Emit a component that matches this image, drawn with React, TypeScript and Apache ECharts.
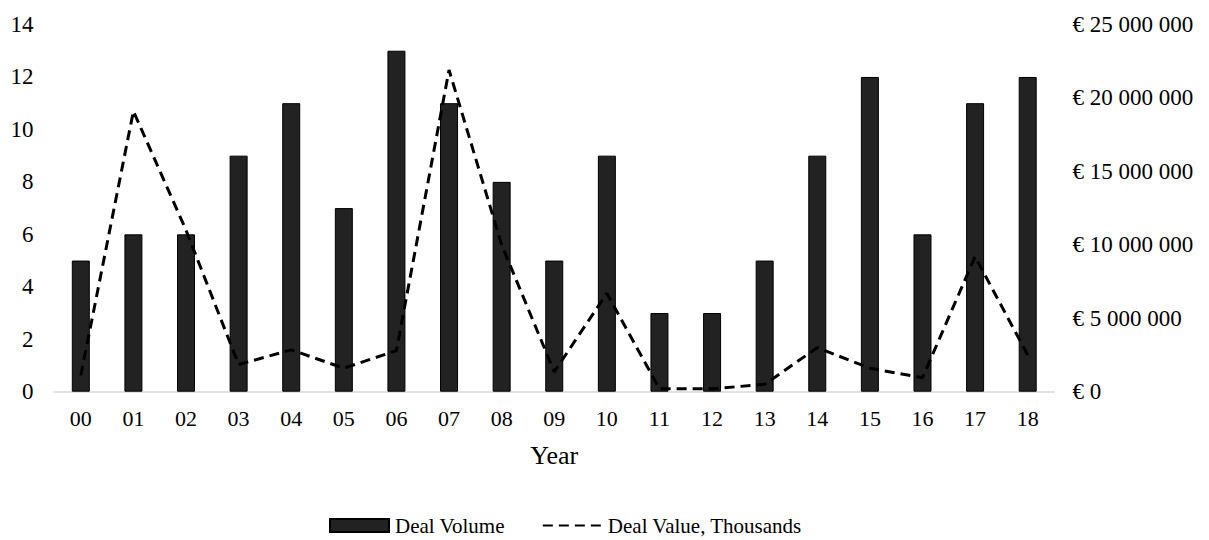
import React, { useEffect, useRef } from "react";
import * as echarts from "echarts";

const categories = ["00","01","02","03","04","05","06","07","08","09","10","11","12","13","14","15","16","17","18"];
const dealVolume = [5, 6, 6, 9, 11, 7, 13, 11, 8, 5, 9, 3, 3, 5, 9, 12, 6, 11, 12];
const dealValue = [1100000, 19100000, 11000000, 1850000, 2850000, 1600000, 2800000, 21900000, 10000000, 1350000, 6700000, 200000, 200000, 500000, 3000000, 1600000, 950000, 9200000, 2500000];

const FONT = "'Liberation Serif', 'Times New Roman', serif";

function fmtEuro(v: number): string {
  const s = Math.round(v).toString().replace(/\B(?=(\d{3})+(?!\d))/g, " ");
  return "€ " + s;
}

export default function App() {
  const ref = useRef<HTMLDivElement>(null);
  useEffect(() => {
    if (!ref.current) return;
    const chart = echarts.init(ref.current, undefined, { renderer: "svg" });
    chart.setOption({
      animation: false,
      backgroundColor: "#ffffff",
      textStyle: { fontFamily: FONT },
      grid: { left: 54.5, right: 155, top: 24.5, bottom: 148.3, containLabel: false },
      legend: {
        top: 515,
        left: 329,
        padding: 0,
        itemGap: 37,
        itemWidth: 59,
        itemHeight: 13,
        textStyle: { fontFamily: FONT, fontSize: 21, color: "#000", lineHeight: 21, padding: [0, 0, 0, 1] },
        data: [
          { name: "Deal Volume", icon: "rect" },
          { name: "Deal Value, Thousands", itemStyle: { opacity: 0 } },
        ],
      },
      xAxis: {
        type: "category",
        data: categories,
        name: "Year",
        nameLocation: "middle",
        nameGap: 51,
        nameTextStyle: { fontFamily: FONT, fontSize: 26, color: "#000" },
        axisLine: { lineStyle: { color: "#d9d9d9", width: 1.5 } },
        axisTick: { show: false },
        axisLabel: { fontFamily: FONT, fontSize: 22, color: "#000", margin: 16 },
      },
      yAxis: [
        {
          type: "value",
          min: 0,
          max: 14,
          interval: 2,
          splitLine: { show: false },
          axisLine: { show: false },
          axisTick: { show: false },
          axisLabel: { fontFamily: FONT, fontSize: 23, color: "#000", margin: 21 },
        },
        {
          type: "value",
          min: 0,
          max: 25000000,
          interval: 5000000,
          position: "right",
          splitLine: { show: false },
          axisLine: { show: false },
          axisTick: { show: false },
          axisLabel: {
            fontFamily: FONT,
            fontSize: 23,
            color: "#000",
            margin: 18.5,
            formatter: (v: number) => fmtEuro(v),
          },
        },
      ],
      series: [
        {
          name: "Deal Volume",
          type: "bar",
          data: dealVolume,
          barWidth: 18,
          itemStyle: { color: "#222222", borderColor: "#000000", borderWidth: 1 },
        },
        {
          name: "Deal Value, Thousands",
          type: "line",
          yAxisIndex: 1,
          data: dealValue,
          symbol: "none",
          showSymbol: false,
          lineStyle: { color: "#000000", width: 3, type: [10, 6] },
          itemStyle: { color: "#000000" },
          z: 3,
        },
      ],
    });
    return () => chart.dispose();
  }, []);
  return (
    <div
      ref={ref}
      style={{ position: "absolute", left: 0, top: 0, width: 1209, height: 540, overflow: "visible" }}
    />
  );
}
